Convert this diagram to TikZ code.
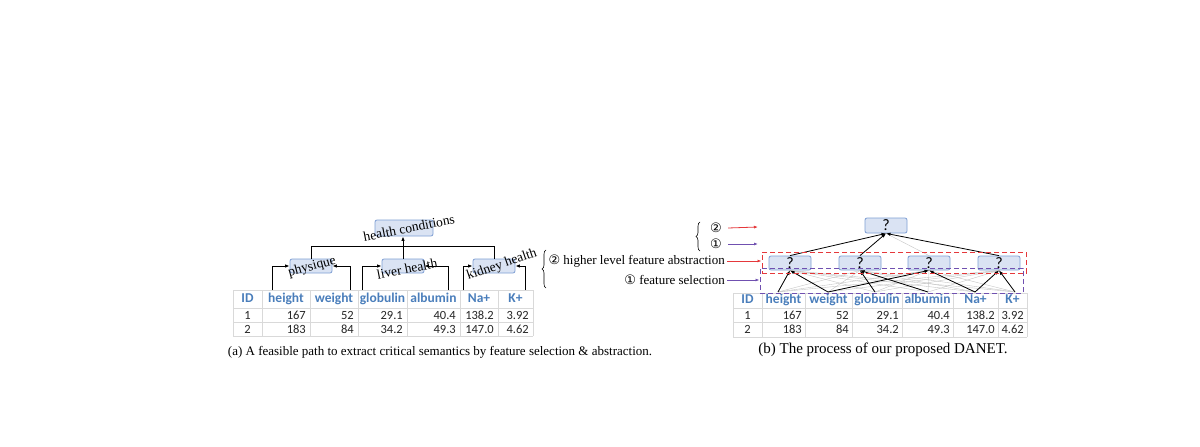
\documentclass[tikz,border=0pt]{standalone}
\usepackage{fontspec}
\setmainfont{Liberation Serif}
\newfontfamily\tabfont{Carlito}
\newfontfamily\symfont{DejaVu Sans}
\usetikzlibrary{arrows.meta,positioning,decorations.pathreplacing,calc}
\definecolor{boxfill}{HTML}{DAE3F3}
\definecolor{boxline}{HTML}{7F9FD4}
\definecolor{hdblue}{HTML}{4A7EBB}
\definecolor{gridgray}{HTML}{D9D9D9}
\definecolor{abred}{HTML}{E5383B}
\definecolor{selpurple}{HTML}{7050B0}
\begin{document}
\begin{tikzpicture}[x=1pt,y=-1pt,
box/.style={draw=boxline,line width=0.8pt,fill=boxfill,rounded corners=2pt,minimum width=42pt,minimum height=14pt,inner sep=0pt},
qbox/.style={box,font=\tabfont\fontsize{16}{16}\selectfont},
lbl/.style={font=\fontsize{13.5}{14}\selectfont,inner sep=0pt},
hd/.style={font=\tabfont\bfseries\fontsize{13.5}{14}\selectfont,text=hdblue,inner sep=0pt,text height=9pt,text depth=3pt},
cell/.style={font=\tabfont\fontsize{12.5}{13}\selectfont,text=black!85,inner sep=0pt,text height=8pt,text depth=0pt},
grid/.style={draw=gridgray,line width=0.6pt},
arr/.style={-{Latex[length=4.5pt,width=3.5pt]},line width=0.9pt},
link/.style={line width=0.9pt},
faint/.style={gray!45,line width=0.4pt},
rarr/.style={-{Latex[length=4pt,width=3pt]},abred,line width=0.8pt},
parr/.style={-{Latex[length=4pt,width=3pt]},selpurple,line width=0.8pt},
rdash/.style={draw=abred,dash pattern=on 5pt off 3pt,line width=1pt,minimum width=264pt,minimum height=21pt,inner sep=0pt},
pdash/.style={draw=selpurple,dash pattern=on 5pt off 3pt,line width=1pt,minimum width=263pt,minimum height=25pt,inner sep=0pt},
brc/.style={decorate,decoration={brace,amplitude=4pt},line width=0.6pt},
txt/.style={font=\fontsize{13}{14}\selectfont,inner sep=0pt}]
\useasboundingbox[fill=white] (0,0) rectangle (1200,447);
\foreach \l/\r/\h/\a/\b [count=\i] in {233/262/ID/1/2,262/310/height/167/183,310/358/weight/52/84,358/407/globulin/29.1/34.2,407/460/albumin/40.4/49.3,460/498/Na+/138.2/147.0,498/533/K+/3.92/4.62}{
\draw[grid] (\l,290) -- (\l,336) (\r,290) -- (\r,336);
\node[hd] (lh\i) at ({(\l+\r)/2},299) {\h};
\ifnum\i=1
\node[cell] (la\i) at ({(\l+\r)/2},315) {\a};\node[cell] (lb\i) at ({(\l+\r)/2},329) {\b};
\else
\node[cell,anchor=east] (la\i) at (\r-4,315) {\a};\node[cell,anchor=east] (lb\i) at (\r-4,329) {\b};
\fi}
\foreach \y in {290,308,322,336} \draw[grid] (233,\y) -- (533,\y);
\foreach \l/\r/\h/\a/\b [count=\i] in {733/762/ID/1/2,762/805/height/167/183,805/852/weight/52/84,852/902/globulin/29.1/34.2,902/953/albumin/40.4/49.3,953/998/Na+/138.2/147.0,998/1027/K+/3.92/4.62}{
\draw[grid] (\l,293) -- (\l,337) (\r,293) -- (\r,337);
\node[hd] (rh\i) at ({(\l+\r)/2},300.5) {\h};
\ifnum\i=1
\node[cell] (ra\i) at ({(\l+\r)/2},315) {\a};\node[cell] (rb\i) at ({(\l+\r)/2},329.5) {\b};
\else
\node[cell,anchor=east] (ra\i) at (\r-3,315) {\a};\node[cell,anchor=east] (rb\i) at (\r-3,329.5) {\b};
\fi}
\foreach \y in {293,308,322,337} \draw[grid] (733,\y) -- (1027,\y);
\node[box,minimum width=58pt,minimum height=16pt] (hc) at (404,228) {};
\node[box] (phy) at (311,266) {};
\node[box] (liv) at (403,266) {};
\node[box] (kid) at (494,266) {};
\node[lbl,rotate=11] (thc) at (409,228) {health conditions};
\node[lbl,rotate=15] (tphy) at (312,267) {physique};
\node[lbl,rotate=11] (tliv) at (407,269) {liver health};
\node[lbl,rotate=19] (tkid) at (502,265) {kidney health};
\foreach \x [count=\i] in {272,350,362,448,463,525} \coordinate (lf\i) at (\x,290);
\draw[arr](lf1)|-(phy.west);\draw[arr](lf2)|-(phy.east);
\draw[arr](lf3)|-(liv.west);\draw[arr](lf4)|-(liv.east);
\draw[arr](lf5)|-(kid.west);\draw[arr](lf6)|-(kid.east);
\draw[link](phy.north)--++(0,-12)-|(kid.north);
\draw[arr](liv.north)--(liv.north|-hc.south);
\node[qbox,minimum height=15pt] (top) at (886,225.5) {?};
\foreach \x [count=\i] in {790,860,929,999} \node[qbox] (q\i) at (\x,263) {?};
\foreach \x [count=\i] in {778,828,875,928,975,1015} \coordinate (rf\i) at (\x,292);
\foreach \i in {1,...,6} \foreach \j in {1,...,4} \draw[faint](rf\i)--(q\j.south);
\draw[faint](q3.north)--(top.south);
\foreach \a/\b in {1/1,2/1,2/3,3/2,4/2,5/3,5/4,6/4} \draw[arr,line width=0.8pt](rf\a)--(q\b.south);
\foreach \b in {1,2,4} \draw[arr,line width=0.8pt](q\b.north)--(top.south);
\node[rdash] (abs) at (894,262.5) {};
\node[pdash] (sel) at (891.5,280.5) {};
\node[txt,anchor=east] (habs) at (725,261) {{\symfont ②} higher level feature abstraction};
\node[txt,anchor=east] (fsel) at (725,280) {{\symfont ①} feature selection};
\draw[brc](546,288)--(546,250);
\node[txt] (n2) at (716,228) {\symfont ②};
\node[txt] (n1) at (716,244) {\symfont ①};
\draw[brc](700,251)--(700,222);
\coordinate (e2) at (758,227);\coordinate (e1) at (758,244);
\draw[rarr]([xshift=6pt]n2.east)--(e2);\draw[parr]([xshift=6pt]n1.east)--(e1);
\draw[rarr]([xshift=2pt]habs.east)--(habs.east-|abs.west);
\draw[parr]([xshift=2pt]fsel.east)--(fsel.east-|sel.west);
\node[txt,font=\fontsize{13}{15}\selectfont] (capa) at (440,352) {(a) A feasible path to extract critical semantics by feature selection \& abstraction.};
\node[txt,font=\fontsize{15}{17}\selectfont] (capb) at (883,350) {(b) The process of our proposed DANET.};
\end{tikzpicture}
\end{document}
